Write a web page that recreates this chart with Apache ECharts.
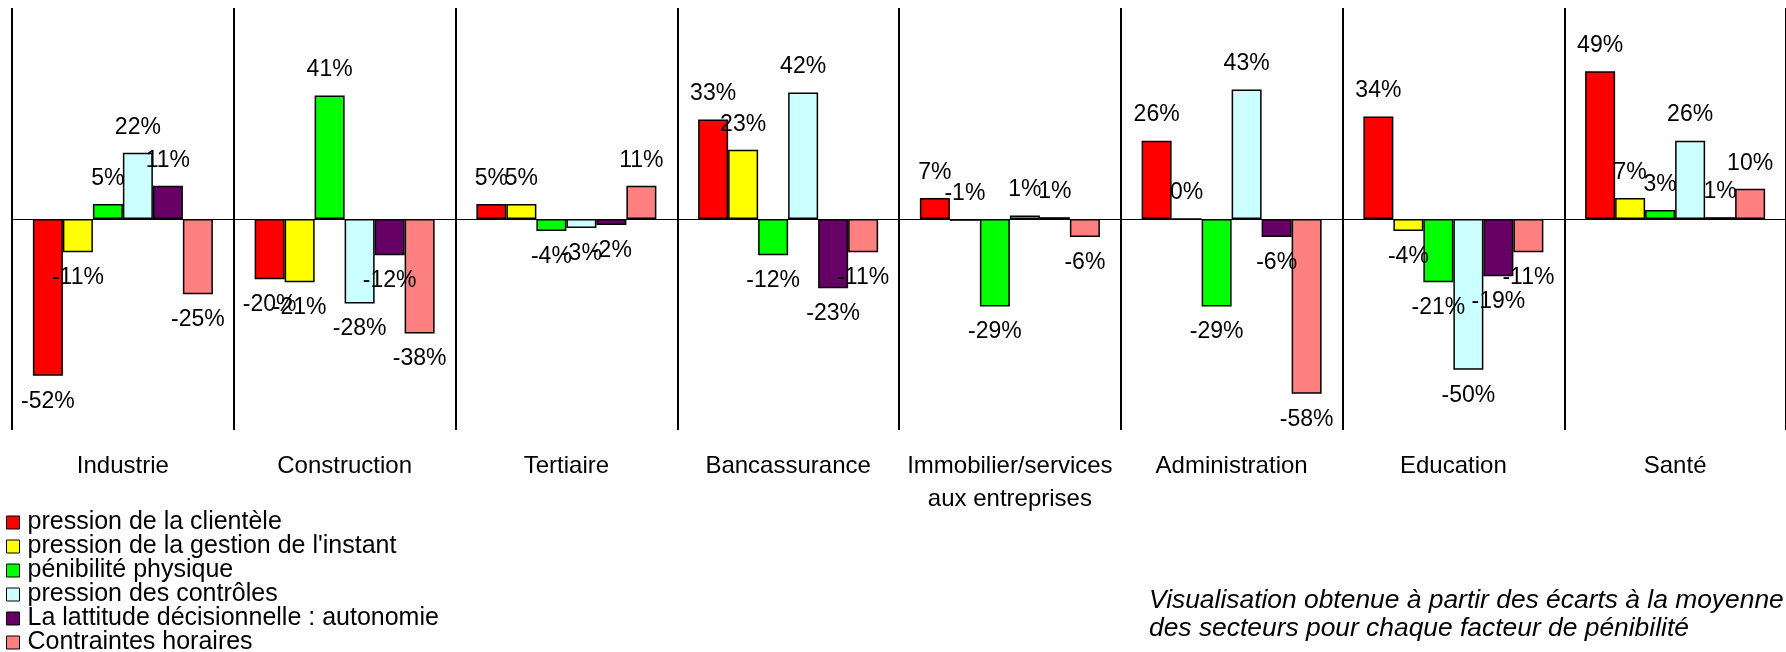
<!DOCTYPE html>
<html>
<head>
<meta charset="utf-8">
<script src="https://cdn.jsdelivr.net/npm/echarts@6/dist/echarts.min.js"></script>
<style>
  html, body { margin: 0; padding: 0; background: #fff; }
  #chart { width: 1786px; height: 652px; }
</style>
</head>
<body>
<div id="chart"></div>
<script>
// sectors (x categories)
const categories = ['Industrie', 'Construction', 'Tertiaire', 'Bancassurance',
  'Immobilier/services\naux entreprises', 'Administration', 'Education', 'Santé']

const seriesNames = [
  'pression de la clientèle',
  'pression de la gestion de l\'instant',
  'pénibilité physique',
  'pression des contrôles',
  'La lattitude décisionnelle : autonomie',
  'Contraintes horaires',
]

// gaps to the mean, one array per factor
const clientele = [-0.52, -0.20, 0.05, 0.33, 0.07, 0.26, 0.34, 0.49]
const gestionInstant = [-0.11, -0.21, 0.05, 0.23, -0.006, 0, -0.04, 0.07]
const penibilite = [0.05, 0.41, -0.04, -0.12, -0.29, -0.29, -0.21, 0.03]
const controles = [0.22, -0.28, -0.03, 0.42, 0.012, 0.43, -0.50, 0.26]
const autonomie = [0.11, -0.12, -0.02, -0.23, 0.006, -0.06, -0.19, 0.006]
const horaires = [-0.25, -0.38, 0.11, -0.11, -0.06, -0.58, -0.11, 0.10]

const colors = ['#FF0000', '#FFFF00', '#00FF00', '#CCFFFF', '#660066', '#FF8080']
const FONT = '"Liberation Sans", Arial, sans-serif'

const chart = echarts.init(document.getElementById('chart'))

const makeSeries = (name, values, i) => ({
  name,
  type: 'bar',
  barWidth: 30,
  barGap: '0%',
  itemStyle: { color: colors[i], borderColor: '#000', borderWidth: 1.5 },
  label: {
    show: true,
    distance: 14,
    color: '#000',
    fontFamily: FONT,
    fontSize: 23,
    formatter: (p) => Math.round(p.value * 100) + '%',
  },
  data: values.map((v) => ({
    value: v,
    label: { position: v > -0.01 ? 'top' : 'bottom' },
  })),
  markLine: i === 0 ? {
    silent: true,
    symbol: 'none',
    label: { show: false },
    lineStyle: { color: '#000', width: 1, type: 'solid' },
    data: [{ yAxis: 0 }],
  } : undefined,
})

const option = {
  animation: false,
  backgroundColor: '#fff',
  grid: { left: 12, right: -3, top: 8, height: 422 },
  title: {
    text: 'Visualisation obtenue à partir des écarts à la moyenne\ndes secteurs pour chaque facteur de pénibilité',
    left: 1149,
    top: 587,
    padding: 0,
    textStyle: {
      fontFamily: FONT,
      fontStyle: 'italic',
      fontWeight: 'normal',
      fontSize: 26.4,
      lineHeight: 28,
      color: '#000',
    },
  },
  legend: {
    orient: 'vertical',
    left: 6,
    top: 510,
    height: 200,
    padding: 0,
    itemGap: -1,
    itemWidth: 13,
    itemHeight: 13,
    icon: 'rect',
    itemStyle: { borderColor: '#000', borderWidth: 1 },
    textStyle: {
      fontFamily: FONT,
      fontSize: 25,
      lineHeight: 23.6,
      color: '#000',
      padding: [0, 0, 0, 3],
    },
    data: seriesNames,
  },
  xAxis: {
    type: 'category',
    data: categories,
    axisLine: { show: false },
    axisTick: { show: false },
    axisLabel: {
      interval: 0,
      margin: 20,
      fontFamily: FONT,
      fontSize: 24,
      lineHeight: 33,
      color: '#000',
    },
    splitLine: {
      show: true,
      interval: 0,
      lineStyle: { color: '#000', width: 2 },
    },
  },
  yAxis: {
    type: 'value',
    min: -0.7,
    max: 0.7,
    interval: 0.7,
    axisLine: { show: false },
    axisTick: { show: false },
    axisLabel: { show: false },
    splitLine: { show: false },
  },
  series: [
    makeSeries(seriesNames[0], clientele, 0),
    makeSeries(seriesNames[1], gestionInstant, 1),
    makeSeries(seriesNames[2], penibilite, 2),
    makeSeries(seriesNames[3], controles, 3),
    makeSeries(seriesNames[4], autonomie, 4),
    makeSeries(seriesNames[5], horaires, 5),
  ],
}

chart.setOption(option)
</script>
</body>
</html>
